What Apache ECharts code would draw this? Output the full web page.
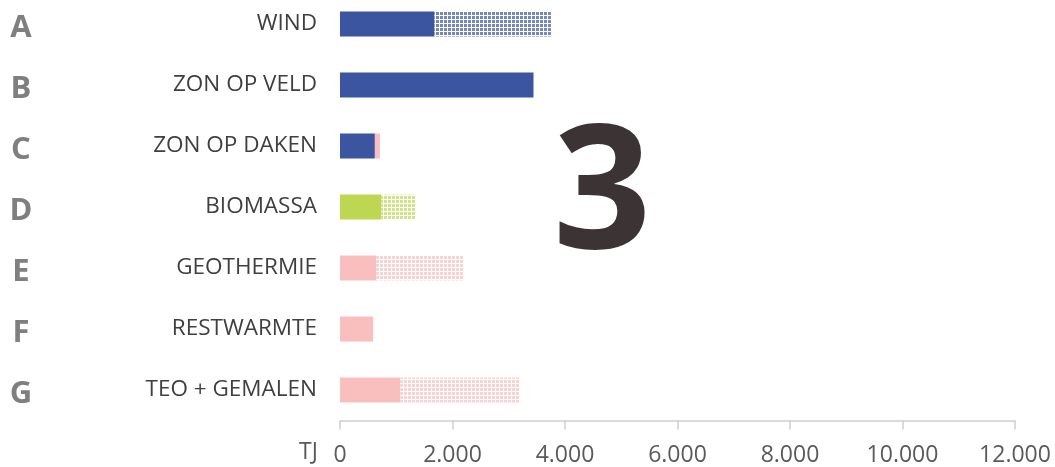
<!DOCTYPE html>
<html>
<head>
<meta charset="utf-8">
<script src="https://cdn.jsdelivr.net/npm/echarts@6/dist/echarts.min.js"></script>
<style>
html,body{margin:0;padding:0;background:#fff;overflow:hidden;}
#chart{width:1055px;height:487px;margin-top:-20px;}
</style>
</head>
<body>
<div id="chart"></div>
<script>
// ---- data ----
var categories = ['WIND', 'ZON OP VELD', 'ZON OP DAKEN', 'BIOMASSA', 'GEOTHERMIE', 'RESTWARMTE', 'TEO + GEMALEN'];
var letters = ['A', 'B', 'C', 'D', 'E', 'F', 'G'];
var baseValues = [1680, 3440, 620, 740, 640, 590, 1070];
var extraSolidValues = [0, 0, 90, 0, 0, 0, 0];
var potentialValues = [2070, 0, 0, 600, 1565, 0, 2130];
var xTicks = [0, 2000, 4000, 6000, 8000, 10000, 12000];
var unitLabel = 'TJ';
var bigNumber = '3';

// ---- styles ----
var BLUE = '#3b55a0', GREEN = '#bdd753', PINK = '#f9bfbf';
var baseColors = [BLUE, BLUE, BLUE, GREEN, PINK, PINK, PINK];

function pattern(color) {
  var c = document.createElement('canvas');
  c.width = 4; c.height = 4;
  var ctx = c.getContext('2d');
  ctx.fillStyle = '#ffffff';
  ctx.fillRect(0, 0, 4, 4);
  ctx.globalAlpha = 0.7;
  ctx.fillStyle = color;
  ctx.fillRect(0, 0, 3, 3);
  return { image: c, repeat: 'repeat' };
}

function fmt(v) {
  return String(v).replace(/\B(?=(\d{3})+(?!\d))/g, '.');
}

var chart = echarts.init(document.getElementById('chart'), null, { renderer: 'canvas' });
var FONT = '"Open Sans", "Noto Sans", sans-serif';
var OFF = 20; // container shifted up by this many px

chart.setOption({
  animation: false,
  grid: { left: 340, right: 40, top: 13.5, bottom: 46.5, containLabel: false },
  xAxis: {
    type: 'value', min: 0, max: 12000, interval: 2000,
    axisLine: { show: true, lineStyle: { color: '#cfcfcf', width: 1.5 } },
    axisTick: { show: true, length: 9, lineStyle: { color: '#cfcfcf', width: 1.5 } },
    splitLine: { show: false },
    axisLabel: {
      margin: 23, fontSize: 23, color: '#5a5a5a', fontFamily: FONT,
      formatter: function (v) { return xTicks.indexOf(v) >= 0 ? fmt(v) : ''; }
    }
  },
  yAxis: [{
    type: 'category', data: categories, inverse: true,
    axisLine: { show: false }, axisTick: { show: false },
    axisLabel: { margin: 23, fontSize: 22.5, color: '#3f3f3f', fontFamily: FONT }
  }, {
    type: 'category', data: letters, inverse: true, position: 'left', offset: 319,
    axisLine: { show: false }, axisTick: { show: false },
    axisLabel: {
      margin: 0, align: 'center',
      formatter: function (v) { return '{l|' + v + '}'; },
      rich: { l: { fontSize: 31, fontWeight: 'bold', color: '#7f7f7f', fontFamily: FONT, padding: [9, 0, 0, 0] } }
    }
  }],
  series: [{
    type: 'bar', stack: 'tot', barWidth: 25, yAxisIndex: 0,
    data: baseValues.map(function (v, i) { return { value: v, itemStyle: { color: baseColors[i] } }; })
  }, {
    type: 'bar', stack: 'tot', barWidth: 25, yAxisIndex: 0,
    itemStyle: { color: PINK },
    data: extraSolidValues
  }, {
    type: 'bar', stack: 'tot', barWidth: 25, yAxisIndex: 0,
    data: potentialValues.map(function (v, i) { return { value: v, itemStyle: { color: pattern(baseColors[i]) } }; })
  }],
  graphic: [{
    type: 'text', left: 299, top: 441 + OFF,
    style: { text: unitLabel, fontSize: 23, fill: '#5a5a5a', fontFamily: FONT }
  }, {
    type: 'text', left: 553, top: 113 + OFF,
    style: { text: bigNumber, fontSize: 172, fontWeight: 'bold', fill: '#3c3434', fontFamily: FONT }
  }]
});
</script>
</body>
</html>
